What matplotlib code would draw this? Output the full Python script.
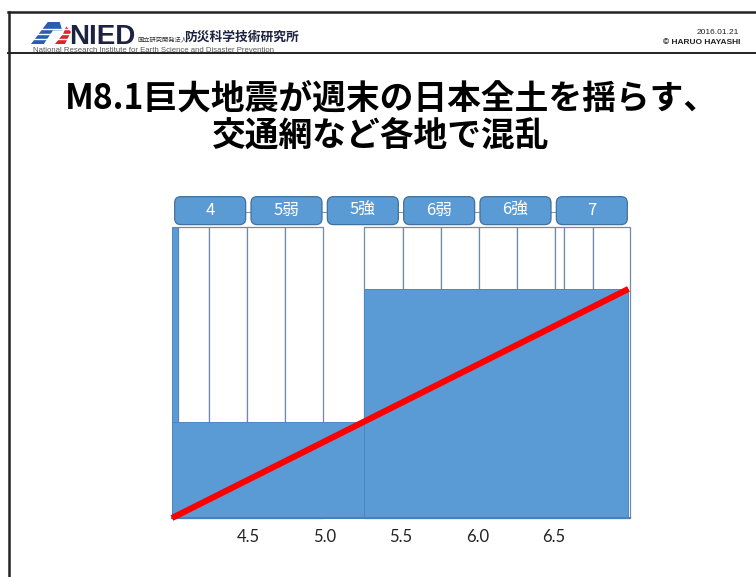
import matplotlib.pyplot as plt
from matplotlib.patches import FancyBboxPatch, Polygon, Rectangle
from matplotlib.lines import Line2D

plt.rcParams['font.family'] = ['Noto Sans CJK JP', 'DejaVu Sans']

# magnitude columns (white)
col_left = [4.04, 4.24, 4.49, 4.74, 5.26, 5.51, 5.76, 6.01, 6.26, 6.51, 6.57, 6.76]
col_right = [4.24, 4.49, 4.74, 4.99, 5.51, 5.76, 6.01, 6.26, 6.51, 6.57, 6.76, 7.0]
col_height = 1.0

# shaking level blocks (blue)
shake_left = [4.0, 4.0, 5.26]
shake_right = [4.04, 5.26, 6.99]
shake_height = [1.0, 0.33, 0.787]

# trend line
line_mag = [4.0, 6.99]
line_level = [0.0, 0.787]

# seismic intensity scale
intensity_labels = ['4', '5弱', '5強', '6弱', '6強', '7']
intensity_center = [4.25, 4.75, 5.25, 5.75, 6.25, 6.75]

mag_ticks = [4.5, 5.0, 5.5, 6.0, 6.5]

BLUE = '#5b9bd5'
EDGE = '#41719c'

W, H = 756, 577
fig = plt.figure(figsize=(W / 100, H / 100), dpi=100)
fig.patch.set_facecolor('white')


def fx(px):
    return px / W


def fy(py):
    return 1 - py / H


# slide frame
for x0, y0, x1, y1, lw in [(8, 12, W, 12, 1.8), (8, 53, W, 53, 1.4),
                           (8.5, 12, 8.5, H, 1.8)]:
    fig.add_artist(Line2D([fx(x0), fx(x1)], [fy(y0), fy(y1)],
                          color='#222222', lw=lw))

# logo mark
ax_logo = fig.add_axes([fx(31), fy(44), fx(40), 22 / H])
ax_logo.set_xlim(0, 1)
ax_logo.set_ylim(0, 1)
ax_logo.axis('off')
ax_logo.add_patch(Polygon([(0.0, 0.0), (0.32, 0.0), (0.55, 0.62), (0.78, 0.62),
                           (0.72, 1.0), (0.42, 1.0)], closed=True,
                          color='#2a5db0', lw=0))
for yy in [0.22, 0.45, 0.7]:
    ax_logo.add_line(Line2D([0, 1], [yy, yy], color='white', lw=1.0))
ax_logo.add_patch(Polygon([(0.6, 0.0), (0.85, 0.0), (1.0, 0.55), (0.88, 0.8),
                           (0.8, 0.45)], closed=True, color='#d9262c', lw=0))

fig.text(fx(69), fy(44), 'NIED', family='Liberation Sans', weight='bold',
         fontsize=20, color='#1c2340', ha='left', va='baseline')
fig.text(fx(137), fy(39), '国立研究開発法人', fontsize=4.5, color='#333333',
         ha='left', va='center')
fig.text(fx(184), fy(37), '防災科学技術研究所', fontsize=9.2, weight='bold',
         color='#1c2340', ha='left', va='center')
fig.text(fx(33), fy(51), 'National Research Institute for Earth Science and Disaster Prevention',
         family='Liberation Sans', fontsize=5.6, color='#555555', ha='left', va='center')
fig.text(fx(739), fy(32), '2016.01.21', family='Liberation Sans', fontsize=6,
         color='#222222', ha='right', va='center')
fig.text(fx(740), fy(43), '© HARUO HAYASHI', family='Liberation Sans', fontsize=6,
         weight='bold', color='#222222', ha='right', va='center')

# headline
fig.text(fx(391), fy(98), 'M8.1巨大地震が週末の日本全土を揺らす、', fontsize=24.3,
         weight='bold', color='black', ha='center', va='center')
fig.text(fx(381), fy(135), '交通網など各地で混乱', fontsize=24.3,
         weight='bold', color='black', ha='center', va='center')

# chart
ax = fig.add_axes([fx(172), fy(518), fx(630) - fx(172), (518 - 192) / H])
ax.set_xlim(4.0, 7.0)
ax.set_ylim(0, 1.12)
for s in ax.spines.values():
    s.set_visible(False)
ax.set_yticks([])

for l, r in zip(col_left, col_right):
    ax.add_patch(Rectangle((l, 0), r - l, col_height, facecolor='white',
                           edgecolor='#6d8ca8', lw=0.9, zorder=1, clip_on=False))

for l, r, h in zip(shake_left, shake_right, shake_height):
    ax.add_patch(Rectangle((l, 0), r - l, h, facecolor=BLUE,
                           edgecolor='#4f86bd', lw=0.7, zorder=2, clip_on=False))
ax.add_line(Line2D([4.0, 7.0], [0.0, 0.0], color='#4a7fb8', lw=1.5, zorder=2.5,
                   clip_on=False))

ax.plot(line_mag, line_level, color='#ff0000', lw=4.4, solid_capstyle='butt',
        zorder=3, clip_on=False)

# intensity boxes along the top
box_w = 0.465
ax.add_line(Line2D([intensity_center[0], intensity_center[-1]], [1.052, 1.052],
                   color='#7d98b3', lw=0.8, zorder=3.5))
for c, lab in zip(intensity_center, intensity_labels):
    ax.add_patch(FancyBboxPatch((c - box_w / 2, 1.008), box_w, 0.096,
                                boxstyle='round,pad=0,rounding_size=0.04',
                                mutation_aspect=0.53, facecolor=BLUE,
                                edgecolor=EDGE, lw=0.9, zorder=4, clip_on=False))
    ax.text(c, 1.058, lab, fontsize=12, color='white', ha='center',
            va='center', zorder=5)

ax.set_xticks(mag_ticks)
ax.set_xticklabels([f'{t:.1f}' for t in mag_ticks], family='Lato', fontsize=12,
                   color='#222222')
ax.tick_params(axis='x', length=0, pad=8)

fig.savefig('out.png', dpi=100, facecolor='white')
